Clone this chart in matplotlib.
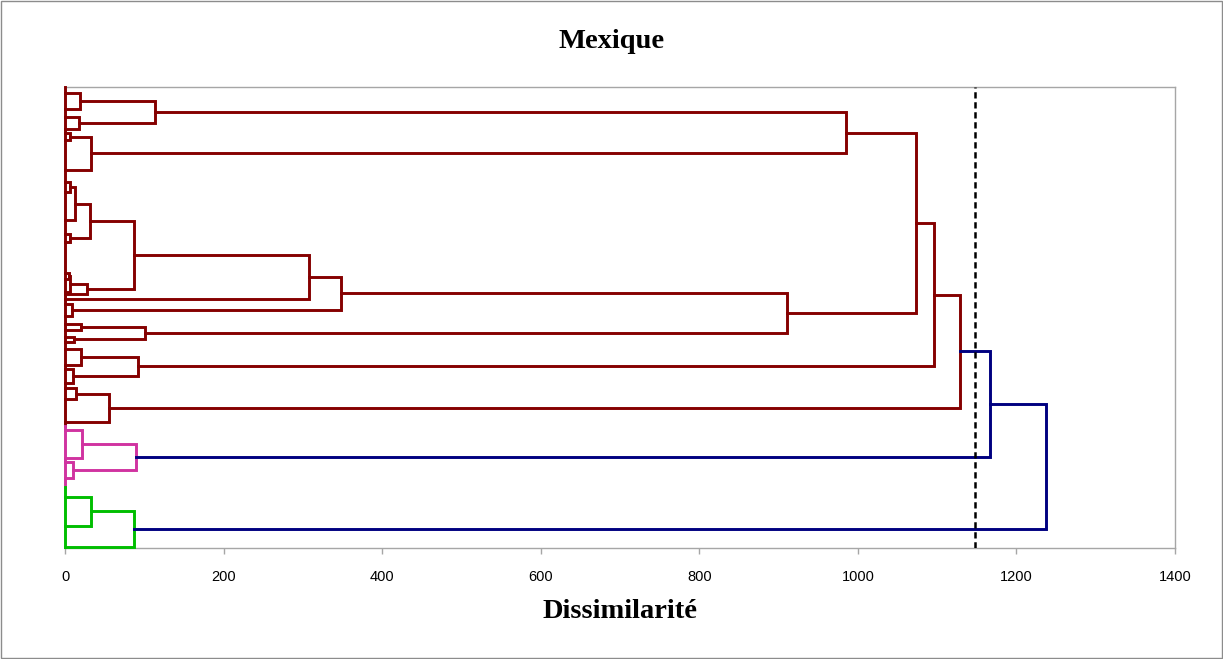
import numpy as np
import matplotlib
matplotlib.use("Agg")
import matplotlib.pyplot as plt
from matplotlib.patches import Rectangle

# leaf positions, top (0) to bottom (100) of the plot area
leaf_pos = [1.4, 4.8, 6.4, 9.2, 10.0, 11.5, 18.0, 20.6, 22.8, 28.9,
            31.9, 33.6, 40.4, 41.7, 44.5, 45.0, 45.9, 47.1, 49.7, 51.4,
            52.7, 54.2, 55.3, 56.8, 60.3, 61.2, 64.2, 65.3, 67.7, 72.7,
            74.4, 80.5, 81.3, 84.8, 88.9, 95.2, 99.8]

# linkage: node 37 + i merges merge_a[i] and merge_b[i] at merge_h[i]
merge_a = [0, 2, 37, 4, 40, 39, 7, 43, 10, 44, 12, 47, 48, 46, 50, 17, 51, 19,
           21, 54, 53, 42, 23, 25, 59, 58, 27, 63, 62, 30, 32, 66, 65, 34, 70, 69]
merge_b = [1, 3, 38, 5, 6, 41, 8, 9, 11, 45, 13, 14, 15, 49, 16, 18, 52, 20,
           22, 55, 56, 57, 24, 26, 60, 61, 28, 29, 64, 31, 33, 67, 68, 35, 36, 71]
merge_h = [19, 18, 113.5, 6, 33, 985, 6, 12, 6, 31.5, 5, 6, 28, 87, 308, 9, 348, 20,
           11.5, 101, 911, 1073, 20.5, 10, 92, 1096, 13.5, 56, 1129, 21.5, 10, 90,
           1167, 33, 87, 1237]

cut = 1148
cluster_colors = ['#850000', '#D033A0', '#00BE00']
above_color = '#000080'

n = len(leaf_pos)
pos = list(leaf_pos)
height = [0.0] * n
parent = {}
for i, (a, b, h) in enumerate(zip(merge_a, merge_b, merge_h)):
    node = n + i
    pos.append((pos[a] + pos[b]) / 2)
    height.append(h)
    parent[a] = node
    parent[b] = node


def root_of(node):
    while node in parent and height[parent[node]] < cut:
        node = parent[node]
    return node


roots = sorted({root_of(n + i) for i in range(len(merge_h)) if merge_h[i] < cut},
               key=lambda r: pos[r])
root_color = {r: cluster_colors[k] for k, r in enumerate(roots)}


def leaves_of(node):
    if node < n:
        return [node]
    i = node - n
    return leaves_of(merge_a[i]) + leaves_of(merge_b[i])


fig = plt.figure(figsize=(12.23, 6.59), dpi=100)
ax = fig.add_axes([65 / 1223, 1 - 548 / 659, 1110 / 1223, 461 / 659])

lw = 2.1
for i, (a, b, h) in enumerate(zip(merge_a, merge_b, merge_h)):
    c = above_color if h >= cut else root_color[root_of(n + i)]
    ax.plot([height[a], h, h, height[b]], [pos[a], pos[a], pos[b], pos[b]],
            color=c, lw=lw, solid_joinstyle='miter', clip_on=False, zorder=3)

# zero-distance ties drawn along the axis
spans = [(min(leaf_pos[j] for j in leaves_of(r)), max(leaf_pos[j] for j in leaves_of(r)))
         for r in roots]
for k, r in enumerate(roots):
    top = 0 if k == 0 else (spans[k - 1][1] + spans[k][0]) / 2
    bot = spans[k][1] if k == len(roots) - 1 else (spans[k][1] + spans[k + 1][0]) / 2
    ax.plot([0, 0], [top, bot], color=root_color[r], lw=lw, clip_on=False, zorder=3)

ax.axvline(cut, color='black', lw=1.8, ls=(0, (2.5, 1.5)), zorder=4)

ax.set_xlim(0, 1400)
ax.set_ylim(100, 0)
ax.set_xticks(np.arange(0, 1401, 200))
ax.set_yticks([])
for side in ['left', 'bottom', 'top', 'right']:
    ax.spines[side].set_color('#A6A6A6')
    ax.spines[side].set_linewidth(1.0)
ax.tick_params(axis='x', length=4, width=1, color='#A6A6A6', pad=12, labelsize=10.5)
for lab in ax.get_xticklabels():
    lab.set_fontfamily('Liberation Sans')

ax.set_xlabel('Dissimilarité', fontfamily='Liberation Serif', fontweight='bold',
              fontsize=20.5, labelpad=11)
fig.text(612 / 1223, 1 - 41 / 659, 'Mexique', fontfamily='Liberation Serif',
         fontweight='bold', fontsize=20.5, ha='center', va='center')

fig.patches.append(Rectangle((0.0008, 0.0015), 0.9984, 0.997, transform=fig.transFigure,
                             fill=False, edgecolor='#8C8C8C', lw=1.0))

fig.savefig('out.png', dpi=100)
